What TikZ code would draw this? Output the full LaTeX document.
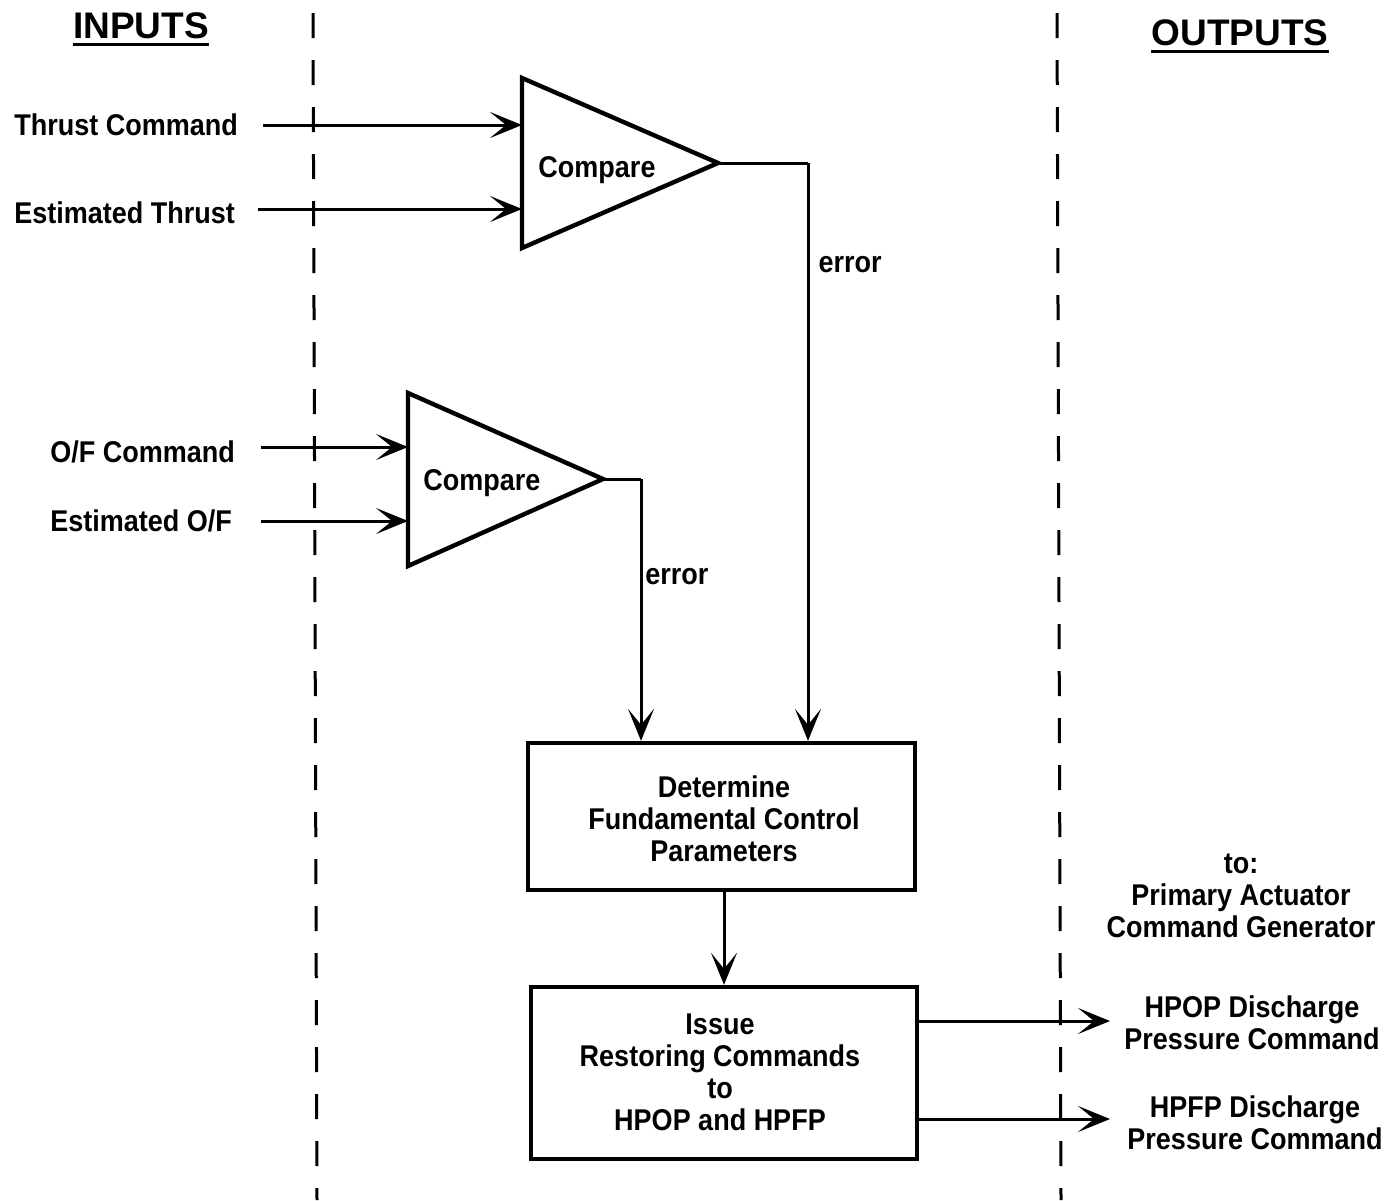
\documentclass[tikz,border=0pt]{standalone}
\usepackage{fontspec}
\setmainfont{Liberation Sans}[FakeStretch=0.9]
\newfontfamily\headfont{Liberation Sans}
\usetikzlibrary{arrows.meta}
\begin{document}
\begin{tikzpicture}[x=0.5pt,y=-0.5pt,
  lbl/.style={font=\fontsize{15}{16}\selectfont\bfseries, inner sep=0pt, align=center},
  word/.style={font=\fontsize{15}{16}\selectfont\bfseries, inner sep=0pt, text height=10.8pt, text depth=0pt},
  head/.style={font=\headfont\fontsize{18.5}{20}\selectfont\bfseries, inner sep=0pt, text height=13.2pt, text depth=0pt},
  blk/.style={draw, line width=2.2pt, inner sep=0pt},
  cmp/.style={line width=2.2pt, line join=miter},
  flow/.style={line width=1.5pt, -{Stealth[length=16pt,width=13pt,inset=8pt]}},
  wire/.style={line width=1.5pt},
  divider/.style={line width=1.5pt, dash pattern=on 12.5pt off 11pt}]
\useasboundingbox (0,0) rectangle (1390,1200);

% column dividers
\draw[divider] (313,13) -- (317,1200);
\draw[divider] (1057,13) -- (1061,1200);

% headings
\node[head] (inputs) at (141,25) {INPUTS};
\draw[line width=1.5pt] (inputs.south west) ++(0,6) coordinate (ul1) -- (ul1 -| inputs.south east);
\node[head] (outputs) at (1240,32) {OUTPUTS};
\draw[line width=1.5pt] (outputs.south west) ++(0,6) coordinate (ul2) -- (ul2 -| outputs.south east);

% input labels
\node[word, anchor=west] (tcmd) at (14,125) {Thrust Command};
\node[word, anchor=west] (test) at (14,213) {Estimated Thrust};
\node[word, anchor=west] (ofcmd) at (50,452) {O/F Command};
\node[word, anchor=west] (ofest) at (50,521) {Estimated O/F};

% thrust comparator
\coordinate (t1a) at (522,78);
\coordinate (t1b) at (522,248);
\coordinate (t1apex) at (718,163);
\draw[cmp] (t1a) -- (t1apex) -- (t1b) -- cycle;
\node[word] (cmp1) at (597,167) {Compare};

% mixture ratio comparator
\coordinate (t2a) at (408,393);
\coordinate (t2b) at (408,566);
\coordinate (t2apex) at (603,479);
\draw[cmp] (t2a) -- (t2apex) -- (t2b) -- cycle;
\node[word] (cmp2) at (482,480) {Compare};

% processing blocks
\node[blk, minimum width=193.5pt, minimum height=73.5pt] (fund) at (721.5,816.5) {};
\node[lbl] (fundtxt) at (724,819) {Determine\\Fundamental Control\\Parameters};
\node[blk, minimum width=193pt, minimum height=86pt] (issue) at (724,1073) {};
\node[lbl] (issuetxt) at (720,1072) {Issue\\Restoring Commands\\to\\HPOP and HPFP};

% input connectors
\coordinate (s1) at (263,125);  \coordinate (i1) at (522,125);
\coordinate (s2) at (258,209);  \coordinate (i2) at (522,209);
\coordinate (s3) at (261,447);  \coordinate (i3) at (408,447);
\coordinate (s4) at (261,521);  \coordinate (i4) at (408,521);
\draw[flow] (s1) -- (i1);
\draw[flow] (s2) -- (i2);
\draw[flow] (s3) -- (i3);
\draw[flow] (s4) -- (i4);

% error signals
\coordinate (e1) at (808,163);
\coordinate (e2) at (641,479);
\draw[wire] (t1apex) -- (e1);
\draw[flow] (e1) -- (e1 |- fund.north);
\draw[wire] (t2apex) -- (e2);
\draw[flow] (e2) -- (e2 |- fund.north);
\node[word] (err1) at (850,262) {error};
\node[word, anchor=west] (err2) at (645,574) {error};

% block to block
\draw[flow] (fund.south -| issue.north) -- (issue.north);

% outputs
\coordinate (o1) at (1110,1021);
\coordinate (o2) at (1110,1119);
\draw[flow] (issue.east |- o1) -- (o1);
\draw[flow] (issue.east |- o2) -- (o2);

\node[lbl] (dest) at (1241,896) {to:\\Primary Actuator\\Command Generator};
\node[lbl] (hpop) at (1252,1023) {HPOP Discharge\\Pressure Command};
\node[lbl] (hpfp) at (1255,1123) {HPFP Discharge\\Pressure Command};
\end{tikzpicture}
\end{document}
